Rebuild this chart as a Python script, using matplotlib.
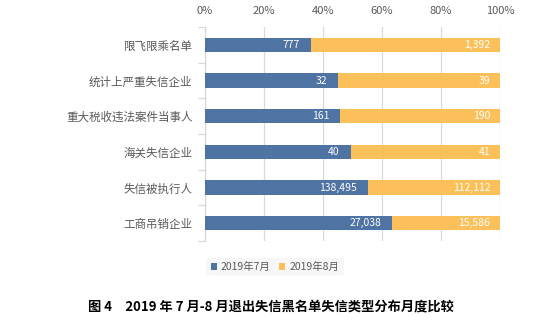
import matplotlib
matplotlib.use("Agg")
import matplotlib.pyplot as plt
from matplotlib.ticker import FixedLocator, PercentFormatter
import numpy as np

plt.rcParams['font.family'] = ['Noto Sans CJK SC', 'DejaVu Sans']

categories = ["限飞限乘名单", "统计上严重失信企业", "重大税收违法案件当事人",
              "海关失信企业", "失信被执行人", "工商吊销企业"]
jul = [777, 32, 161, 40, 138495, 27038]
aug = [1392, 39, 190, 41, 112112, 15586]
series_names = ["2019年7月", "2019年8月"]
xticks = [0, 20, 40, 60, 80, 100]
caption = "图 4　2019 年 7 月-8 月退出失信黑名单失信类型分布月度比较"

blue = '#4F73A3'
yellow = '#FBC05A'
grey_text = '#595959'

fig = plt.figure(figsize=(5.6, 3.31), dpi=100)
ax = fig.add_axes([205/560, 1-241/331, 295/560, 214/331])

jul_a = np.array(jul, float)
aug_a = np.array(aug, float)
tot = jul_a + aug_a
p1 = jul_a / tot * 100
p2 = aug_a / tot * 100
y = np.arange(len(categories))

h = 0.4
ax.barh(y, p1, height=h, color=blue, label=series_names[0], zorder=3)
ax.barh(y, p2, left=p1, height=h, color=yellow, label=series_names[1], zorder=3)

for i in range(len(categories)):
    ax.annotate(f"{jul[i]:,}", xy=(p1[i], y[i]), xytext=(-8, 0), textcoords='offset points',
                ha='right', va='center', color='white', fontsize=7.5, zorder=4)
    ax.annotate(f"{aug[i]:,}", xy=(100, y[i]), xytext=(-7, 0), textcoords='offset points',
                ha='right', va='center', color='white', fontsize=7.5, zorder=4)

ax.set_xlim(0, 100)
ax.set_ylim(len(categories) - 0.5, -0.5)
ax.xaxis.set_major_locator(FixedLocator(xticks))
ax.xaxis.set_major_formatter(PercentFormatter(decimals=0))
ax.xaxis.tick_top()
ax.tick_params(axis='x', length=0, labelsize=8, colors=grey_text, pad=8)
ax.grid(axis='x', color='#D9D9D9', linewidth=0.9, zorder=0)

ax.set_yticks(y)
ax.set_yticklabels(categories)
ax.set_yticks(np.arange(len(categories) + 1) - 0.5, minor=True)
ax.tick_params(axis='y', which='major', length=0, labelsize=8.3, colors=grey_text, pad=9)
ax.tick_params(axis='y', which='minor', length=5, color='#D9D9D9', width=0.9)

for s in ['top', 'right', 'bottom']:
    ax.spines[s].set_visible(False)
ax.spines['left'].set_color('#D9D9D9')
ax.spines['left'].set_linewidth(0.9)

leg = fig.legend(loc='center', bbox_to_anchor=(275/560, 1-267/331), ncol=2,
                 frameon=True, fontsize=7.5, handlelength=0.6, handleheight=0.6,
                 handletextpad=0.4, columnspacing=0.8, borderpad=0.4)
leg.get_frame().set_facecolor('#F6F6F6')
leg.get_frame().set_edgecolor('none')
for t in leg.get_texts():
    t.set_color(grey_text)

fig.text(271/560, 1-306/331, caption, ha='center', va='center', fontsize=9.5,
         fontweight='bold', color='black')

fig.savefig('out.png', dpi=100)
